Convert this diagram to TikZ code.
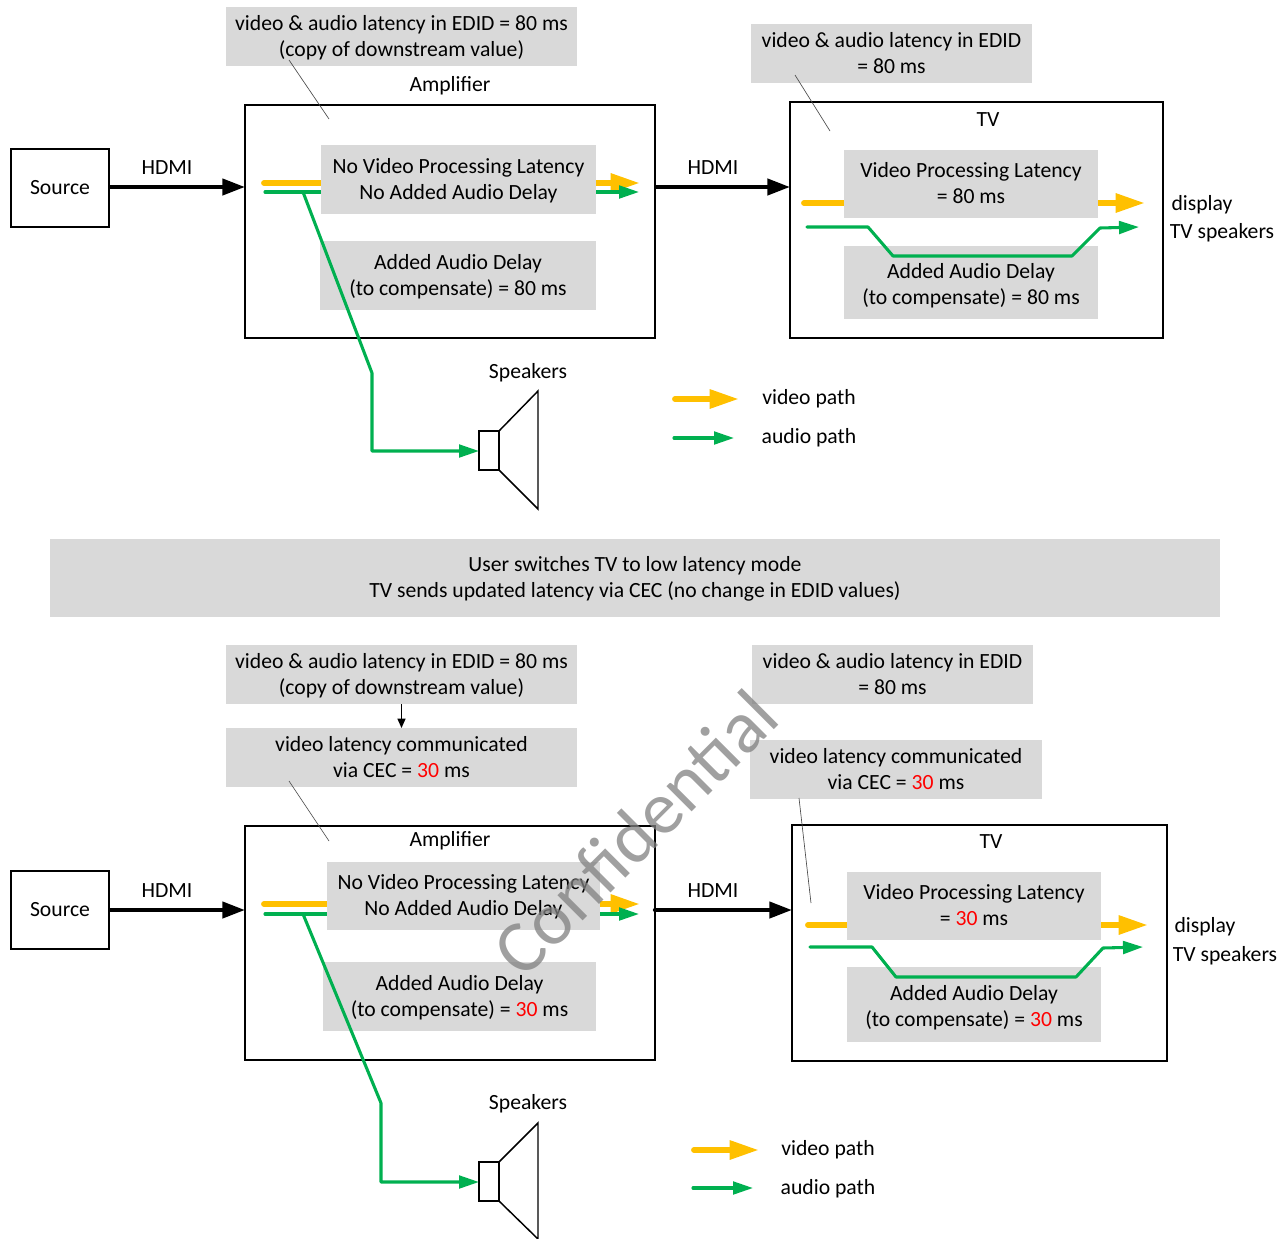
\documentclass[tikz,border=0pt]{standalone}
\usepackage{fontspec}
\setmainfont{Carlito}
\usetikzlibrary{arrows.meta}
\definecolor{vidc}{HTML}{FFC000}
\definecolor{audc}{HTML}{00B050}
\definecolor{boxc}{HTML}{D9D9D9}
\newcommand{\rd}[1]{\textcolor{red}{#1}}
\newcommand{\stl}{\rule[-7pt]{0pt}{19.5pt}}
\newcommand{\stt}{\rule[-7pt]{0pt}{24pt}}
\tikzset{
  txt/.style={inner sep=0pt,outer sep=0pt,align=center,font=\fontsize{16.25}{19.5}\selectfont},
  lbl/.style={txt,text height=17pt,text depth=7pt},
  graybox/.style={txt,fill=boxc,minimum width=#1},
  frame/.style={draw=black,line width=1.1pt,inner sep=0pt,outer sep=0pt},
  vidpath/.style={draw=vidc,line width=4.4pt,line cap=round,-{Triangle[length=22pt,width=13.5pt]}},
  audpath/.style={draw=audc,line width=2.3pt,line cap=round,line join=round,-{Triangle[length=15pt,width=9.5pt]}},
  audbranch/.style={draw=audc,line width=2.3pt,line join=round,-{Triangle[length=15pt,width=9.5pt]}},
  hdmi/.style={draw=black,line width=3.2pt,-{Triangle[length=17pt,width=12pt]}},
  leader/.style={draw=black!70,line width=.5pt},
  spk/.style={draw=black,line width=1.1pt,line join=miter}
}
\begin{document}
\begin{tikzpicture}[x=0.75pt,y=-0.75pt]
\useasboundingbox (0,0) rectangle (1286,1239);
% ---------- top half
\node[graybox=263.25pt,minimum height=44.25pt] (n1) at (401.5,36.5) {\stt video \& audio latency in EDID = 80 ms\\\stl (copy of downstream value)};
\node[graybox=210.75pt,minimum height=44.25pt] (n2) at (891.5,53.5) {\stt video \& audio latency in EDID\\\stl = 80 ms};
\node[frame,minimum width=307.5pt,minimum height=174.75pt] (amp1) at (450,221.5) {};
\node[frame,minimum width=279.75pt,minimum height=177pt] (tv1) at (976.5,220) {};
\node[frame,lbl,minimum width=73.5pt,minimum height=58.5pt] (src1) at (60,188) {Source};
\node[lbl] (amplabel1) at (450,85) {Amplifier};
\node[lbl] (tvlabel1) at (988,120) {TV};
\node[lbl] (h1a) at (167,168) {HDMI};
\node[lbl] (h1b) at (713,168) {HDMI};
\draw[hdmi] (src1.east |- 0,187) -- (amp1.west |- 0,187);
\draw[hdmi] (amp1.east |- 0,187) -- (tv1.west |- 0,187);
\node[graybox=207pt,minimum height=51.75pt] (a1add) at (458,275.5) {\stt Added Audio Delay\\\stl (to compensate) = 80 ms};
\node[frame,minimum width=15pt,minimum height=29.25pt] (spk1) at (489,450.5) {};
\draw[spk] (spk1.north east) -- (538,391) -- (538,509) -- (spk1.south east);
\node[lbl] (spl1) at (528,372) {Speakers};
\coordinate (a1vs) at (264,183); \coordinate (a1ve) at (640,183);
\coordinate (a1as) at (265,192); \coordinate (a1ae) at (639,192);
\coordinate (a1t) at (303,192); \coordinate (a1k) at (372,373); \coordinate (a1c) at (372,451);
\draw[vidpath] (a1vs) -- (a1ve);
\draw[audpath] (a1as) -- (a1ae);
\draw[audbranch] (a1t) -- (a1k) -- (a1c) -- (spk1.west |- a1c);
\node[graybox=206.25pt,minimum height=51.75pt] (a1no) at (458.5,179.5) {\stt No Video Processing Latency\\\stl No Added Audio Delay};
% TV top
\node[graybox=190.5pt,minimum height=54.75pt] (t1a) at (971,282.5) {};
\draw[vidpath] (804,203) coordinate (t1vs) -- (1145,203) coordinate (t1ve);
\node[graybox=190.5pt,minimum height=51pt] (t1v) at (971,184) {\stt Video Processing Latency\\\stl = 80 ms};
\draw[audpath] (807,227) coordinate (t1as) -- (868,227) -- (893,256) -- (1072,256) -- (1100,228) -- (1139,227) coordinate (t1ae);
\node[txt] (t1at) at (971,285) {\stt Added Audio Delay\\\stl (to compensate) = 80 ms};
\node[lbl] (d1) at (1202,204) {display};
\node[lbl] (s1) at (1222,232) {TV speakers};
\draw[leader] (289,60) -- (329,119);
\draw[leader] (795,75) -- (830,131);
% legend
\draw[vidpath] (675,399) coordinate (lv1a) -- (739,399) coordinate (lv1b);
\draw[audpath] (674,438) coordinate (la1a) -- (734,438) coordinate (la1b);
\node[lbl] (lvt1) at (809,398) {video path};
\node[lbl] (lat1) at (809,437) {audio path};
% banner
\node[graybox=877.5pt,minimum height=58.5pt] (ban) at (635,578) {\stt User switches TV to low latency mode\\\stl TV sends updated latency via CEC (no change in EDID values)};
% ---------- bottom half
\node[graybox=263.25pt,minimum height=44.25pt] (n3) at (401.5,674.5) {\stt video \& audio latency in EDID = 80 ms\\\stl (copy of downstream value)};
\node[graybox=263.25pt,minimum height=44.25pt] (n4) at (401.5,757.5) {\stt video latency communicated\\\stl via CEC = \rd{30} ms};
\draw[draw=black,line width=.9pt,-{Triangle[length=7pt,width=6pt]}] (n3.south) -- (n4.north);
\node[graybox=210.75pt,minimum height=44.25pt] (n5) at (892.5,674.5) {\stt video \& audio latency in EDID\\\stl = 80 ms};
\node[graybox=219pt,minimum height=44.25pt] (n6) at (896,769.5) {\stt video latency communicated\\\stl via CEC = \rd{30} ms};
\node[frame,minimum width=307.5pt,minimum height=175.5pt] (amp2) at (450,943) {};
\node[frame,minimum width=281.25pt,minimum height=177pt] (tv2) at (979.5,943) {};
\node[frame,lbl,minimum width=73.5pt,minimum height=58.5pt] (src2) at (60,910) {Source};
\node[lbl] (amplabel2) at (450,840) {Amplifier};
\node[lbl] (tvlabel2) at (991,842) {TV};
\node[lbl] (h2a) at (167,891) {HDMI};
\node[lbl] (h2b) at (713,891) {HDMI};
\draw[hdmi] (src2.east |- 0,910) -- (amp2.west |- 0,910);
\draw[hdmi,line cap=round] (amp2.east |- 0,910) -- (tv2.west |- 0,910);
\node[graybox=204.75pt,minimum height=51.75pt] (a2add) at (459.5,996.5) {\stt Added Audio Delay\\\stl (to compensate) = \rd{30} ms};
\node[frame,minimum width=15pt,minimum height=29.25pt] (spk2) at (489,1181.5) {};
\draw[spk] (spk2.north east) -- (538,1123) -- (538,1239) -- (spk2.south east);
\node[lbl] (spl2) at (528,1103) {Speakers};
\draw[vidpath] (264,904) coordinate (a2vs) -- (640,904) coordinate (a2ve);
\draw[audpath] (265,914) coordinate (a2as) -- (639,914) coordinate (a2ae);
\draw[audbranch] (303,914) coordinate (a2t) -- (381,1103) -- (381,1182) coordinate (a2c) -- (spk2.west |- a2c);
\node[graybox=204.75pt,minimum height=51pt] (a2no) at (463.5,896) {\stt No Video Processing Latency\\\stl No Added Audio Delay};
\draw[vidpath] (808,925) coordinate (t2vs) -- (1148,925) coordinate (t2ve);
\node[graybox=190.5pt,minimum height=51pt] (t2v) at (974,906) {\stt Video Processing Latency\\\stl = \rd{30} ms};
\node[graybox=190.5pt,minimum height=56.25pt] (t2a) at (974,1004.5) {};
\draw[audpath] (810,947) coordinate (t2as) -- (872,947) -- (896,977) -- (1076,977) -- (1103,948) -- (1143,947) coordinate (t2ae);
\node[txt] (t2at) at (974,1007) {\stt Added Audio Delay\\\stl (to compensate) = \rd{30} ms};
\node[lbl] (d2) at (1205,926) {display};
\node[lbl] (s2) at (1225,955) {TV speakers};
\draw[leader] (289,781) -- (329,841);
\draw[leader] (799,798) -- (811,903);
\draw[vidpath] (694,1150) coordinate (lv2a) -- (759,1150) coordinate (lv2b);
\draw[audpath] (693,1188) coordinate (la2a) -- (753,1188) coordinate (la2b);
\node[lbl] (lvt2) at (828,1149) {video path};
\node[lbl] (lat2) at (828,1188) {audio path};
% watermark
\node[inner sep=0pt,rotate=45,text=black!50,opacity=.75,font=\fontsize{56}{60}\selectfont] (wm) at (635,833) {Confidential};
\end{tikzpicture}
\end{document}
